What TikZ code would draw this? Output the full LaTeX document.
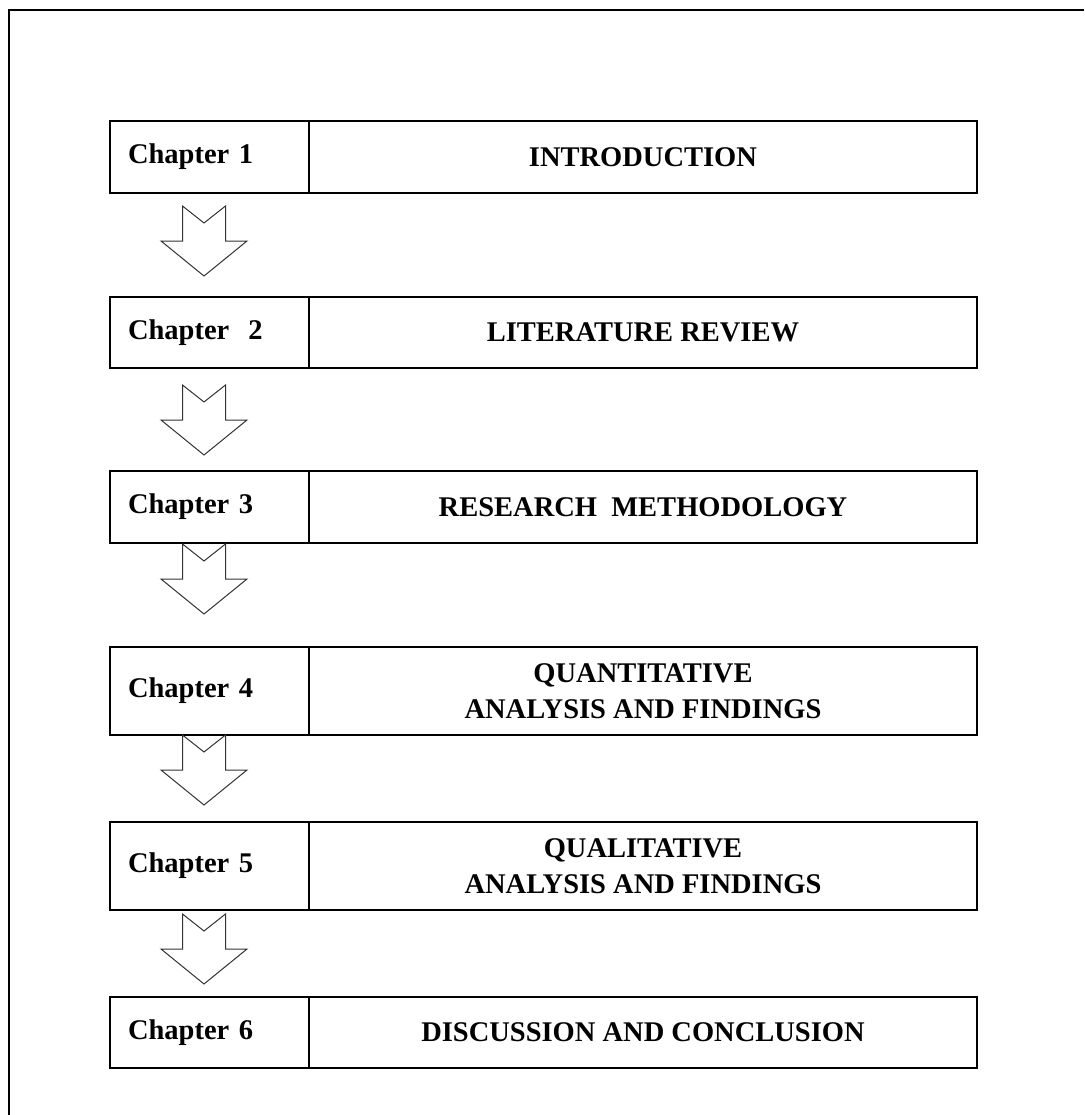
\documentclass[tikz,border=0pt]{standalone}
\usepackage{fontspec}
\setmainfont{Liberation Serif}
\usetikzlibrary{positioning}

\tikzset{
  chapbox/.style={draw, line width=2pt, anchor=north west, outer sep=0pt, inner xsep=18pt, inner ysep=0pt,
    text width=163pt, align=left, font=\fontsize{28.5}{36}\selectfont\bfseries},
  titlebox/.style={draw, line width=2pt, anchor=north west, outer sep=0pt, inner sep=0pt,
    minimum width=668pt, align=center, font=\fontsize{28.5}{36}\selectfont\bfseries},
  chaparrow/.pic={
    \draw[line width=1pt, black!80] (-21.5,0) -- (0,17) -- (21.5,0) -- (21.5,35) -- (43,35)
      -- (0,70) -- (-43,35) -- (-21.5,35) -- cycle;
  }
}

\begin{document}
\begin{tikzpicture}[x=1pt,y=-1pt]
        \useasboundingbox (0,0) rectangle (1084,1115);
        \draw[line width=2pt] (9,1115) -- (9,10) -- (1084,10);

        \node (ch1) [chapbox, minimum height=72pt] at (110,121) {Chapter 1};
        \node (t1) [titlebox, minimum height=72pt] at (ch1.north east) {INTRODUCTION};

        \node (ch2) [chapbox, minimum height=71pt] at (110,297) {Chapter\ \ 2};
        \node (t2) [titlebox, minimum height=71pt] at (ch2.north east) {LITERATURE REVIEW};

        \node (ch3) [chapbox, minimum height=72pt] at (110,471) {Chapter 3};
        \node (t3) [titlebox, minimum height=72pt] at (ch3.north east) {RESEARCH\ \ METHODOLOGY};

        \node (ch4) [chapbox, minimum height=88pt] at (110,647) {Chapter 4};
        \node (t4) [titlebox, minimum height=88pt] at (ch4.north east) {QUANTITATIVE\\ANALYSIS AND FINDINGS};

        \node (ch5) [chapbox, minimum height=88pt] at (110,822) {Chapter 5};
        \node (t5) [titlebox, minimum height=88pt] at (ch5.north east) {QUALITATIVE\\ANALYSIS AND FINDINGS};

        \node (ch6) [chapbox, minimum height=71pt] at (110,997) {Chapter 6};
        \node (t6) [titlebox, minimum height=71pt] at (ch6.north east) {DISCUSSION AND CONCLUSION};

        % block arrows between the chapters
        \foreach \y in {206,385,544,735,914}
            \pic at (204,\y) {chaparrow};
    \end{tikzpicture}
\end{document}
